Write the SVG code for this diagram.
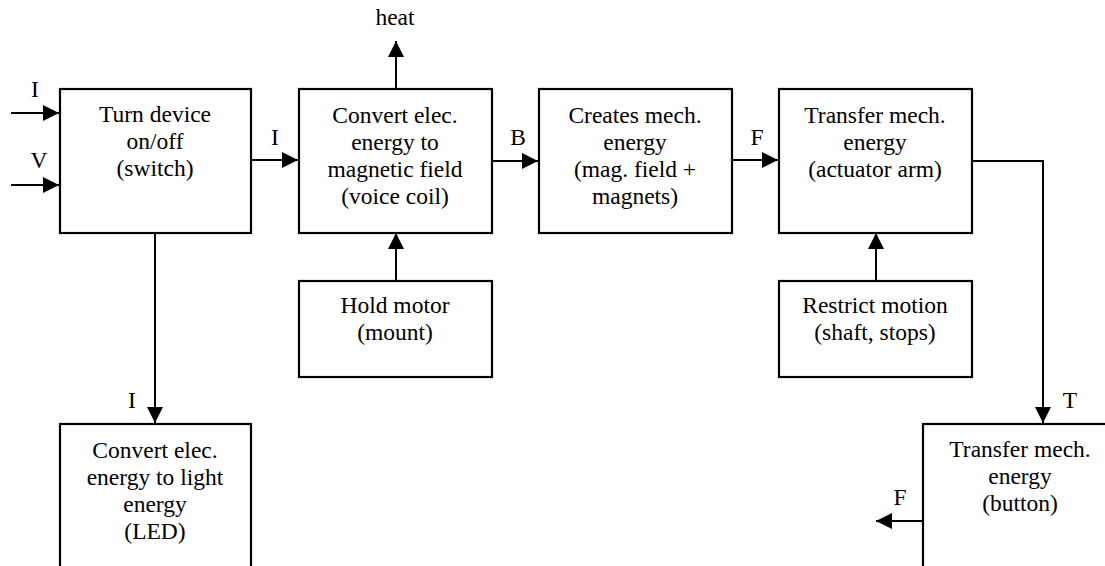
<svg xmlns="http://www.w3.org/2000/svg" width="1105" height="566" viewBox="0 0 1105 566">
<style>
.box{fill:#fff;stroke:#000;stroke-width:2.2}
.t{font-family:"Liberation Serif","Times New Roman",serif;font-size:23.5px;fill:#000;text-anchor:middle}
.ln{fill:none;stroke:#000;stroke-width:2}
</style>
<defs>
<marker id="ah" markerUnits="userSpaceOnUse" markerWidth="17" markerHeight="18" refX="16" refY="9" orient="auto">
<path d="M0,1 L16,9 L0,17 z" fill="#000"/>
</marker>
</defs>
<rect width="1105" height="566" fill="#fff"/>
<g id="connectors">
<line class="ln" x1="11" y1="113" x2="59" y2="113" marker-end="url(#ah)"/>
<line class="ln" x1="11" y1="185" x2="59" y2="185" marker-end="url(#ah)"/>
<line class="ln" x1="251" y1="160" x2="298" y2="160" marker-end="url(#ah)"/>
<line class="ln" x1="492" y1="161" x2="538" y2="161" marker-end="url(#ah)"/>
<line class="ln" x1="732" y1="160" x2="778" y2="160" marker-end="url(#ah)"/>
<line class="ln" x1="396" y1="89" x2="396" y2="41" marker-end="url(#ah)"/>
<line class="ln" x1="396" y1="281" x2="396" y2="233" marker-end="url(#ah)"/>
<line class="ln" x1="876" y1="281" x2="876" y2="233" marker-end="url(#ah)"/>
<polyline class="ln" points="972,161 1043,161 1043,423" marker-end="url(#ah)"/>
<line class="ln" x1="155" y1="233" x2="155" y2="423" marker-end="url(#ah)"/>
<line class="ln" x1="923" y1="521" x2="876" y2="521" marker-end="url(#ah)"/>
<text class="t" x="35" y="97">I</text>
<text class="t" x="39" y="168">V</text>
<text class="t" x="275" y="145">I</text>
<text class="t" x="518" y="145">B</text>
<text class="t" x="757" y="145">F</text>
<text class="t" x="395" y="25">heat</text>
<text class="t" x="132" y="408">I</text>
<text class="t" x="1070" y="408">T</text>
<text class="t" x="900" y="505">F</text>
</g>
<g id="switch">
<rect class="box" x="60" y="89" width="191" height="144"/>
<text class="t" x="155" y="122">Turn device</text>
<text class="t" x="155" y="149">on/off</text>
<text class="t" x="155" y="176">(switch)</text>
</g>
<g id="voicecoil">
<rect class="box" x="299" y="89" width="193" height="144"/>
<text class="t" x="395" y="123">Convert elec.</text>
<text class="t" x="395" y="150">energy to</text>
<text class="t" x="395" y="177">magnetic field</text>
<text class="t" x="395" y="204">(voice coil)</text>
</g>
<g id="magnets">
<rect class="box" x="539" y="89" width="193" height="144"/>
<text class="t" x="635" y="123">Creates mech.</text>
<text class="t" x="635" y="150">energy</text>
<text class="t" x="635" y="177">(mag. field +</text>
<text class="t" x="635" y="204">magnets)</text>
</g>
<g id="actuator">
<rect class="box" x="779" y="89" width="193" height="144"/>
<text class="t" x="875" y="123">Transfer mech.</text>
<text class="t" x="875" y="150">energy</text>
<text class="t" x="875" y="177">(actuator arm)</text>
</g>
<g id="mount">
<rect class="box" x="299" y="281" width="193" height="96"/>
<text class="t" x="395" y="313">Hold motor</text>
<text class="t" x="395" y="340">(mount)</text>
</g>
<g id="restrict">
<rect class="box" x="779" y="281" width="193" height="96"/>
<text class="t" x="875" y="313">Restrict motion</text>
<text class="t" x="875" y="340">(shaft, stops)</text>
</g>
<g id="led">
<rect class="box" x="60" y="424" width="191" height="160"/>
<text class="t" x="155" y="458">Convert elec.</text>
<text class="t" x="155" y="485">energy to light</text>
<text class="t" x="155" y="512">energy</text>
<text class="t" x="155" y="539">(LED)</text>
</g>
<g id="button">
<rect class="box" x="923" y="424" width="193" height="160"/>
<text class="t" x="1020" y="457">Transfer mech.</text>
<text class="t" x="1020" y="484">energy</text>
<text class="t" x="1020" y="511">(button)</text>
</g>
</svg>
